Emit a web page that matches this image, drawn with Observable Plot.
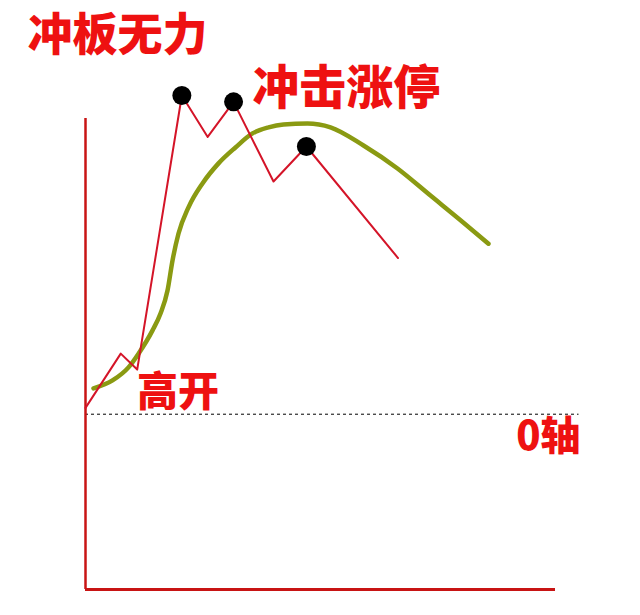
<!DOCTYPE html>
<html>
<head>
<meta charset="utf-8">
<script src="https://cdn.jsdelivr.net/npm/d3@7"></script>
<script src="https://cdn.jsdelivr.net/npm/@observablehq/plot@0.6"></script>
<style>
  html, body { margin: 0; padding: 0; background: #fff; }
  svg { display: block; }
</style>
</head>
<body>
<div id="chart"></div>
<script>
// Price path (time units, % change)
const priceT = [0, 7.5, 11, 20.5, 26, 31.5, 40, 47, 66.5];
const priceV = [0.2, 1.9, 1.4, 10, 8.7, 9.8, 7.3, 8.4, 4.9];
// Indices of the peaks that touch the limit (black dots)
const peakIdx = [3, 5, 7];
// Average / smooth curve
const avgT = [1.7, 5.74, 9.15, 11.28, 14.26, 15.96, 17.45, 18.51, 19.79, 21.91, 24.89, 28.3, 31.91, 35.53, 38.94, 42.13, 47.23, 52.13, 59.15, 66.38, 73.4, 80.43, 85.74];
const avgV = [0.81, 1.06, 1.47, 1.9, 2.63, 3.16, 3.88, 4.82, 5.67, 6.49, 7.24, 7.87, 8.37, 8.81, 9.0, 9.09, 9.12, 9.0, 8.43, 7.71, 6.86, 6.01, 5.35];
// Axes extents
const xMin = 0, xMax = 100, yMin = -5.5, yAxisTop = 9.28, zeroEnd = 105;
// Annotation labels
const labelText = ["冲板无力", "冲击涨停", "高开", "0轴"];
const labelT = [6.8, 55.5, 19.7, 98.5];
const labelV = [11.84, 10.2, 0.68, -0.73];
const labelSize = [45, 47, 41, 40];

const price = priceT.map((t, i) => ({t, v: priceV[i]}));
const peaks = peakIdx.map(i => price[i]);
const avg = avgT.map((t, i) => ({t, v: avgV[i]}));
const labels = labelText.map((s, i) => ({s, t: labelT[i], v: labelV[i], size: labelSize[i]}));

const chart = Plot.plot({
  width: 640,
  height: 615,
  marginLeft: 85,
  marginRight: 85,
  marginTop: 95,
  marginBottom: 26,
  x: {domain: [0, 100], axis: null},
  y: {domain: [-5.5, 10], axis: null},
  style: {background: "#fff", overflow: "visible"},
  marks: [
    Plot.ruleY([0], {x1: xMin, x2: zeroEnd, stroke: "#000", strokeWidth: 1, strokeDasharray: "3,3"}),
    Plot.ruleX([xMin], {y1: yMin, y2: yAxisTop, stroke: "#c81414", strokeWidth: 2.5}),
    Plot.ruleY([yMin], {x1: xMin, x2: xMax, stroke: "#c81414", strokeWidth: 3}),
    Plot.line(avg, {x: "t", y: "v", curve: "monotone-x", stroke: "#8a9a12", strokeWidth: 4.5, strokeLinecap: "round"}),
    Plot.line(price, {x: "t", y: "v", stroke: "#d41428", strokeWidth: 2}),
    Plot.dot(peaks, {x: "t", y: "v", r: 9.5, fill: "#000", stroke: "none"}),
    ...labels.map(d => Plot.text([d], {
      x: "t", y: "v", text: "s",
      fontSize: d.size, fontWeight: 900,
      fontFamily: "'Noto Sans CJK SC', sans-serif",
      fill: "#ee1111", textAnchor: "middle", lineAnchor: "middle"
    }))
  ]
});
document.getElementById("chart").appendChild(chart);
</script>
</body>
</html>
